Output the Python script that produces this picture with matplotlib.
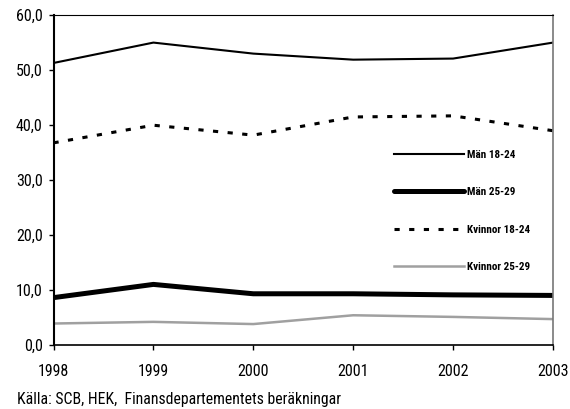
import matplotlib
matplotlib.use("Agg")
import matplotlib.pyplot as plt
from matplotlib.ticker import FuncFormatter

plt.rcParams['font.family'] = ['Roboto Condensed', 'DejaVu Sans']

years = [1998, 1999, 2000, 2001, 2002, 2003]
man_18_24 = [51.2, 54.9, 52.9, 51.8, 52.0, 54.9]
man_25_29 = [8.6, 11.0, 9.3, 9.3, 9.1, 9.0]
kv_18_24 = [36.7, 39.9, 38.1, 41.4, 41.6, 38.9]
kv_25_29 = [3.9, 4.2, 3.8, 5.4, 5.1, 4.7]
labels = ['Män 18-24', 'Män 25-29', 'Kvinnor 18-24', 'Kvinnor 25-29']
source = 'Källa: SCB, HEK,  Finansdepartementets beräkningar'

fig = plt.figure(figsize=(5.7, 4.09), dpi=100)
L, R, T, B = 53.5, 553, 14.5, 345
ax = fig.add_axes([L/570, 1-B/409, (R-L)/570, (B-T)/409])

ax.plot(years, man_18_24, color='black', lw=1.5, label=labels[0])
ax.plot(years, man_25_29, color='black', lw=3.6, label=labels[1], solid_capstyle='round')
ax.plot(years, kv_18_24, color='black', lw=2.2, dashes=(1.7, 3.1), label=labels[2])
ax.plot(years, kv_25_29, color='#a0a0a0', lw=1.8, label=labels[3])

ax.set_xlim(1998, 2003)
ax.set_ylim(0, 60)
ax.set_xticks(years)
ax.set_yticks(range(0, 61, 10))
ax.yaxis.set_major_formatter(FuncFormatter(lambda v, p: f"{v:.1f}".replace('.', ',')))
ax.tick_params(axis='both', direction='out', length=3.6, width=1, labelsize=11.5)
ax.tick_params(axis='x', pad=10)
ax.tick_params(axis='y', pad=4.3)

ax.spines['left'].set_linewidth(1.5)
ax.spines['bottom'].set_linewidth(1.2)
ax.spines['top'].set_linewidth(0.8)
ax.spines['right'].set_color('#777777')
ax.spines['right'].set_linewidth(1.2)

leg = ax.legend(loc='upper left', bbox_to_anchor=((394-L)/(R-L), 1-(149.5-T)/(B-T)), frameon=False,
                borderpad=0, borderaxespad=0,
                handlelength=6.3, handletextpad=0.25, labelspacing=2.48,
                prop={'size': 8, 'weight': 'bold'})

fig.text(17/570, 1-404/409, source, fontsize=11.3, va='baseline', ha='left')

fig.savefig('out.png', dpi=100)
